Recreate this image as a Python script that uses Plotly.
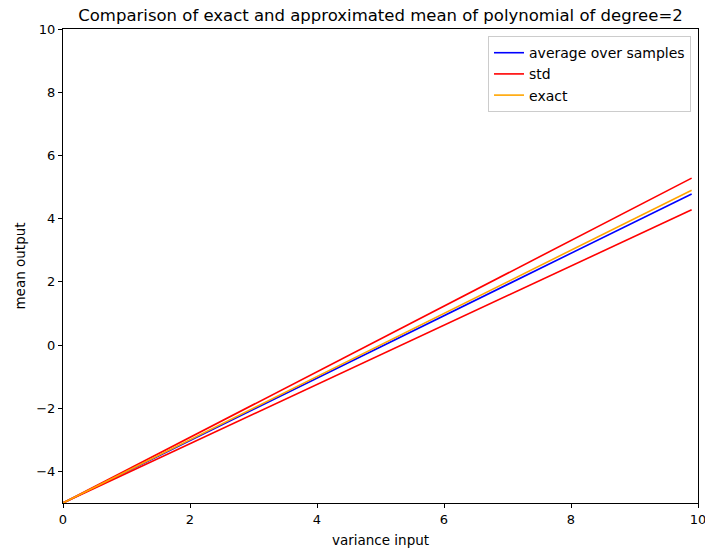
import plotly.graph_objects as go

# variance of the input and the corresponding mean output
variance = [0, 1, 2, 3, 4, 5, 6, 7, 8, 9, 9.9]
exact_mean = [-5, -4, -3, -2, -1, 0, 1, 2, 3, 4, 4.9]
sample_mean = [-5, -4.01, -3.02, -2.04, -1.05, -0.06, 0.93, 1.92, 2.90, 3.89, 4.78]
sample_std = [0, 0.05, 0.10, 0.15, 0.20, 0.25, 0.30, 0.35, 0.40, 0.45, 0.50]

upper = [m + s for m, s in zip(sample_mean, sample_std)]
lower = [m - s for m, s in zip(sample_mean, sample_std)]

fig = go.Figure()
fig.add_trace(go.Scatter(x=variance, y=sample_mean, mode="lines",
                         line=dict(color="#0000ff", width=1.6),
                         name="average over samples"))
fig.add_trace(go.Scatter(x=variance, y=upper, mode="lines",
                         line=dict(color="#ff0000", width=1.6),
                         name="std", legendgroup="std"))
fig.add_trace(go.Scatter(x=variance, y=lower, mode="lines",
                         line=dict(color="#ff0000", width=1.6),
                         name="std", legendgroup="std", showlegend=False))
fig.add_trace(go.Scatter(x=variance, y=exact_mean, mode="lines",
                         line=dict(color="#ffa500", width=1.6),
                         name="exact"))

axis_common = dict(showgrid=False, zeroline=False, showline=True, mirror=True,
                   linecolor="black", linewidth=1, ticks="outside", ticklen=4,
                   tickcolor="black", tickfont=dict(size=13, color="black"),
                   ticklabeloverflow="allow", automargin=False)

fig.update_layout(
    width=705, height=554,
    margin=dict(l=63, r=7, t=29, b=51),
    paper_bgcolor="white", plot_bgcolor="white",
    font=dict(family="DejaVu Sans", color="black"),
    title=dict(text="Comparison of exact and approximated mean of polynomial of degree=2",
               x=0.5, xref="paper", xanchor="center", y=0.972, yanchor="middle",
               font=dict(size=16.5)),
    xaxis=dict(range=[0, 10], tickvals=[0, 2, 4, 6, 8, 10],
               title=dict(text="variance input", font=dict(size=13.5), standoff=9),
               **axis_common),
    yaxis=dict(range=[-5, 10], tickvals=[-4, -2, 0, 2, 4, 6, 8, 10],
               ticktext=["\u22124", "\u22122", "0", "2", "4", "6", "8", "10"],
               title=dict(text="mean output", font=dict(size=13.5), standoff=7),
               **axis_common),
    legend=dict(x=0.989, xanchor="right", y=0.985, yanchor="top",
                bgcolor="white", bordercolor="#cccccc", borderwidth=1,
                font=dict(size=14), tracegroupgap=0),
    showlegend=True,
)

fig.write_html("out.html")
